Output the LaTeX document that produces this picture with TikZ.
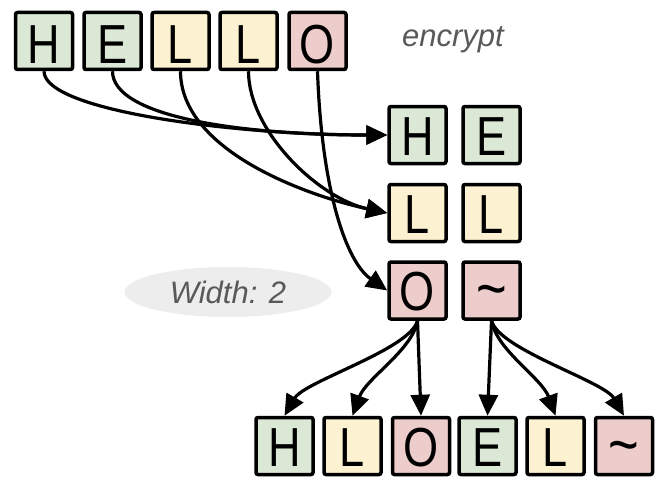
\documentclass[tikz,border=0pt]{standalone}
\usepackage{fontspec}
\setmainfont{Liberation Sans}
\newfontfamily\cellfont[FakeStretch=0.82]{Liberation Sans}
\usepackage{xcolor}
\usetikzlibrary{arrows.meta, shapes.geometric, positioning}
\definecolor{cellgreen}{HTML}{DBE8D5}
\definecolor{cellyellow}{HTML}{FCF1D1}
\definecolor{cellred}{HTML}{EDCDCB}
\definecolor{notegray}{HTML}{EDEDED}
\definecolor{textgray}{HTML}{595959}
\newcommand{\padchr}{{\fontsize{64}{64}\selectfont\textasciitilde}}

\begin{document}
\begin{tikzpicture}[x=1pt, y=1pt]
			\tikzset{cell/.style={draw, line width=3.5pt, rounded corners=2pt, minimum size=57pt, inner sep=0pt, text height=40pt, text depth=0pt, font=\cellfont\fontsize{55}{55}\selectfont}}
			\tikzset{arrow/.style={-{Triangle[length=21pt, width=19pt]}, line width=3.2pt}}
			\tikzset{note/.style={text=textgray, font=\itshape\fontsize{31}{31}\selectfont}}

			\useasboundingbox (0,0) rectangle (668,-492);

			% plain text
			\foreach \name/\col/\chr/\x in {H/cellgreen/H/44, E/cellgreen/E/112.5, L/cellyellow/L/180.5, LL/cellyellow/L/248.5, O/cellred/O/317.5}
				\node (top\name) [cell, fill=\col, text height=46pt] at (\x,-41) {\chr};

			\node (encrypt) [note] at (453,-40) {encrypt};

			% rails
			\node (midH) [cell, fill=cellgreen] at (417.5,-135) {H};
			\node (midE) [cell, fill=cellgreen] at (491.5,-135) {E};
			\node (midL) [cell, fill=cellyellow] at (417.5,-213) {L};
			\node (midLL) [cell, fill=cellyellow] at (491.5,-213) {L};
			\node (midO) [cell, fill=cellred] at (417.5,-290.5) {O};
			\node (midT) [cell, fill=cellred] at (491.5,-290.5) {\padchr};

			\node (width) [note, ellipse, fill=notegray, minimum width=207pt, minimum height=50pt] at (228,-292) {Width: 2};

			% cipher text
			\foreach \name/\col/\chr/\x in {H/cellgreen/H/284.5, L/cellyellow/L/352.5, O/cellred/O/421, E/cellgreen/E/487.5, LL/cellyellow/L/555.5, T/cellred/\padchr/624}
				\node (bot\name) [cell, fill=\col] at (\x,-446) {\chr};

			\draw[arrow] (topH.south) .. controls +(-90:40) and +(180:150) .. (midH.west);
			\draw[arrow] (topE.south) .. controls +(-90:45) and +(180:150) .. (midH.west);
			\draw[arrow] (topL.south) .. controls +(-90:80) and +(168:80) .. (midL.west);
			\draw[arrow] (topLL.south) .. controls +(-90:60) and +(168:70) .. (midL.west);
			\draw[arrow] (topO.south) .. controls +(-88:120) and +(145:50) .. (midO.west);

			\draw[arrow] (midO.south) .. controls +(-105:30) and +(60:40) .. (botH.north);
			\draw[arrow] (midO.south) .. controls +(-100:30) and +(70:40) .. (botL.north);
			\draw[arrow] (midO.south) -- (botO.north);
			\draw[arrow] (midT.south) -- (botE.north);
			\draw[arrow] (midT.south) .. controls +(-80:30) and +(110:40) .. (botLL.north);
			\draw[arrow] (midT.south) .. controls +(-75:30) and +(120:40) .. (botT.north);
\end{tikzpicture}
\end{document}
